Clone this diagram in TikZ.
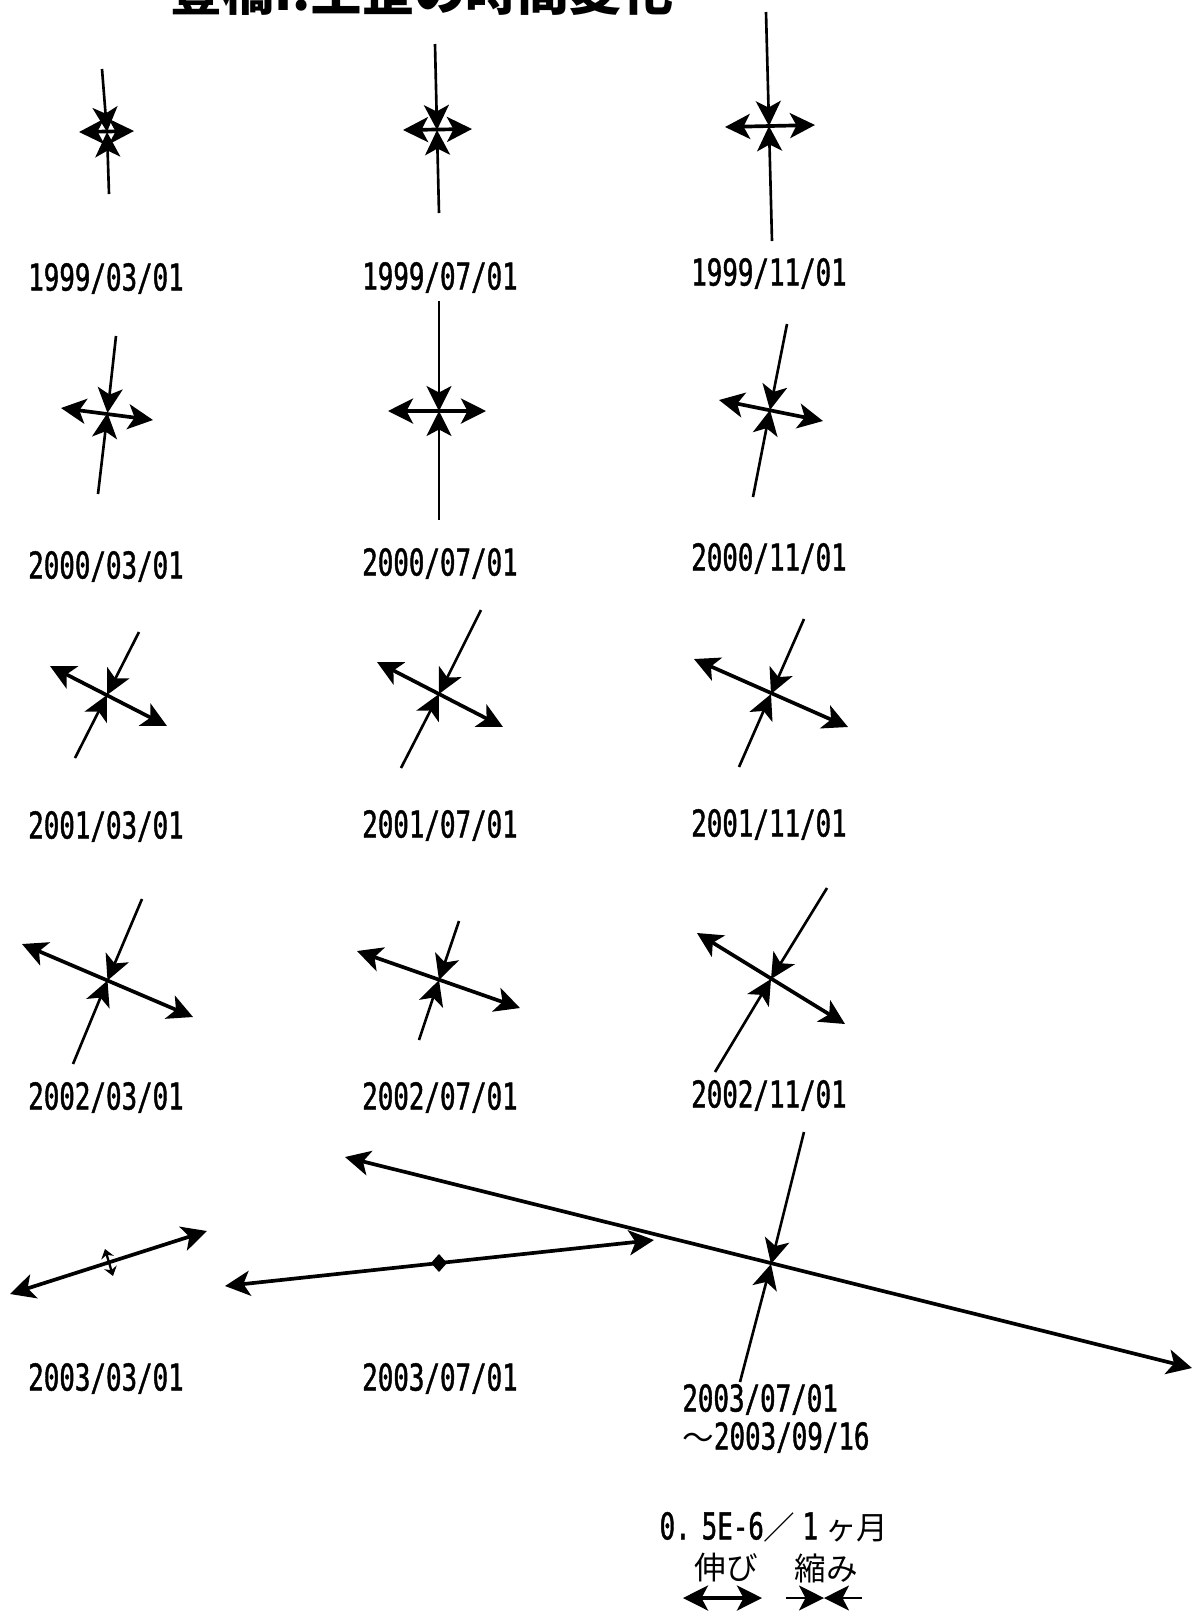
\documentclass[tikz,border=0pt]{standalone}
\usepackage{fontspec}
\usetikzlibrary{arrows.meta}
\newfontfamily\jpfont{Noto Sans CJK JP}
\newfontfamily\datefont[FakeStretch=0.7,FakeBold=1.2]{DejaVu Sans Mono}
\newcommand{\dt}{\datefont\fontsize{21pt}{24pt}\selectfont}
\tikzset{>={Stealth[length=5mm,width=5mm,inset=1.3mm]},
         comp/.style = {line width=1.5pt,->},
         extn/.style = {line width=2.1pt,<->},
         datelbl/.style = {font=\dt,inner sep=0pt,anchor=base},
         jp/.style = {font=\jpfont\fontsize{18pt}{22pt}\selectfont,inner sep=0pt}}
% centre, compression ends (n,s), extension ends (w,e)
\newcommand{\strain}[6]{%
  \coordinate (#1) at #2;
  \coordinate (#1n) at #3;
  \coordinate (#1s) at #4;
  \coordinate (#1w) at #5;
  \coordinate (#1e) at #6;
  \draw[comp] (#1n) -- (#1);
  \draw[comp] (#1s) -- (#1);
  \draw[extn] (#1w) -- (#1e);}

\begin{document}
\begin{tikzpicture}[x=0.2mm,y=-0.2mm]
    \useasboundingbox (0,0) rectangle (1196,1612);

    \node [font=\jpfont\bfseries\fontsize{29.5pt}{32pt}\selectfont, anchor=base west, inner sep=0pt]
          (title) at (170,10) {豊橋I:主歪の時間変化};

    \strain{s9903}{(107,132)}{(102,69)}{(109,194)}{(79,132)}{(134,131)}
    \strain{s9907}{(437,130)}{(435,44)}{(439,213)}{(403,130)}{(472,129)}
    \strain{s9911}{(769,126)}{(766,12)}{(772,241)}{(725,127)}{(815,125)}

    \strain{s0003}{(107.5,413)}{(116,336)}{(98,494)}{(61,408)}{(153,420)}
    \strain{s0007}{(439,411)}{(439,301)}{(439,520)}{(388,411)}{(486,411)}
    \strain{s0011}{(770,410)}{(787,324)}{(753,497)}{(719,400)}{(823,421)}

    \strain{s0103}{(107,695)}{(139,632)}{(75,758)}{(50,666)}{(167,726)}
    \strain{s0107}{(439,694)}{(481,610)}{(401,768)}{(377,662)}{(503,727)}
    \strain{s0111}{(771,694)}{(804,619)}{(739,767)}{(694,659)}{(848,727)}

    \strain{s0203}{(107.5,980.5)}{(142,899)}{(73,1064)}{(22,944)}{(193,1017)}
    \strain{s0207}{(439,980)}{(459,921)}{(419,1040)}{(357,951)}{(520,1008)}
    \strain{s0211}{(771,979)}{(827,888)}{(715,1072)}{(697,933)}{(845,1024)}

    % 2003
    \coordinate (s0303w) at (10,1294);
    \coordinate (s0303e) at (207,1231);
    \coordinate (s0303n) at (105,1249);
    \coordinate (s0303s) at (113,1276);
    \draw[extn] (s0303w) -- (s0303e);
    \draw[line width=1.3pt, {Stealth[length=1.8mm,width=2.6mm,inset=0.6mm]}-{Stealth[length=1.8mm,width=2.6mm,inset=0.6mm]}] (s0303n) -- (s0303s);

    \coordinate (s0307) at (439,1263);
    \coordinate (s0307w) at (225,1286);
    \coordinate (s0307e) at (654,1240);
    \draw[extn] (s0307w) -- (s0307e);
    \fill (s0307) ++(0,-9) -- ++(8,9) -- ++(-8,9) -- ++(-8,-9) -- cycle;

    \strain{s0309}{(771,1264)}{(804,1132)}{(740,1382)}{(345,1157)}{(1192,1368)}

    \node [datelbl] (d9903) at (106,290.5)  {1999/03/01};
    \node [datelbl] (d9907) at (440,289.5)  {1999/07/01};
    \node [datelbl] (d9911) at (769,285.5)  {1999/11/01};
    \node [datelbl] (d0003) at (106,578.5)  {2000/03/01};
    \node [datelbl] (d0007) at (440,575.5)  {2000/07/01};
    \node [datelbl] (d0011) at (769,570.5)  {2000/11/01};
    \node [datelbl] (d0103) at (106,838.5)  {2001/03/01};
    \node [datelbl] (d0107) at (440,837.5)  {2001/07/01};
    \node [datelbl] (d0111) at (769,836.5)  {2001/11/01};
    \node [datelbl] (d0203) at (106,1109.5) {2002/03/01};
    \node [datelbl] (d0207) at (440,1109.5) {2002/07/01};
    \node [datelbl] (d0211) at (769,1107.5) {2002/11/01};
    \node [datelbl] (d0303) at (106,1390.5) {2003/03/01};
    \node [datelbl] (d0307) at (440,1390.5) {2003/07/01};
    \node [datelbl, anchor=base west] (d0309a) at (682,1411.5) {2003/07/01};
    \node [datelbl, anchor=base west] (d0309b) at (682,1449.5) {{\jpfont\fontsize{18pt}{22pt}\selectfont ～}2003/09/16};

    % scale
    \node [jp] (scale) at (774,1527) {{\dt 0.\hspace{2.2mm}5E-6}／{\dt\hspace{1.4mm}1\hspace{1.4mm}}ヶ月};
    \node [jp] (nobi) at (726,1568) {伸び};
    \node [jp] (chiji) at (826,1568) {縮み};
    \coordinate (lxw) at (683,1598);
    \coordinate (lxe) at (762,1598);
    \coordinate (lc) at (824,1598);
    \coordinate (lcw) at (786,1598);
    \coordinate (lce) at (862,1598);
    \draw[extn] (lxw) -- (lxe);
    \draw[comp] (lcw) -- (lc);
    \draw[comp] (lce) -- (lc);
\end{tikzpicture}
\end{document}
